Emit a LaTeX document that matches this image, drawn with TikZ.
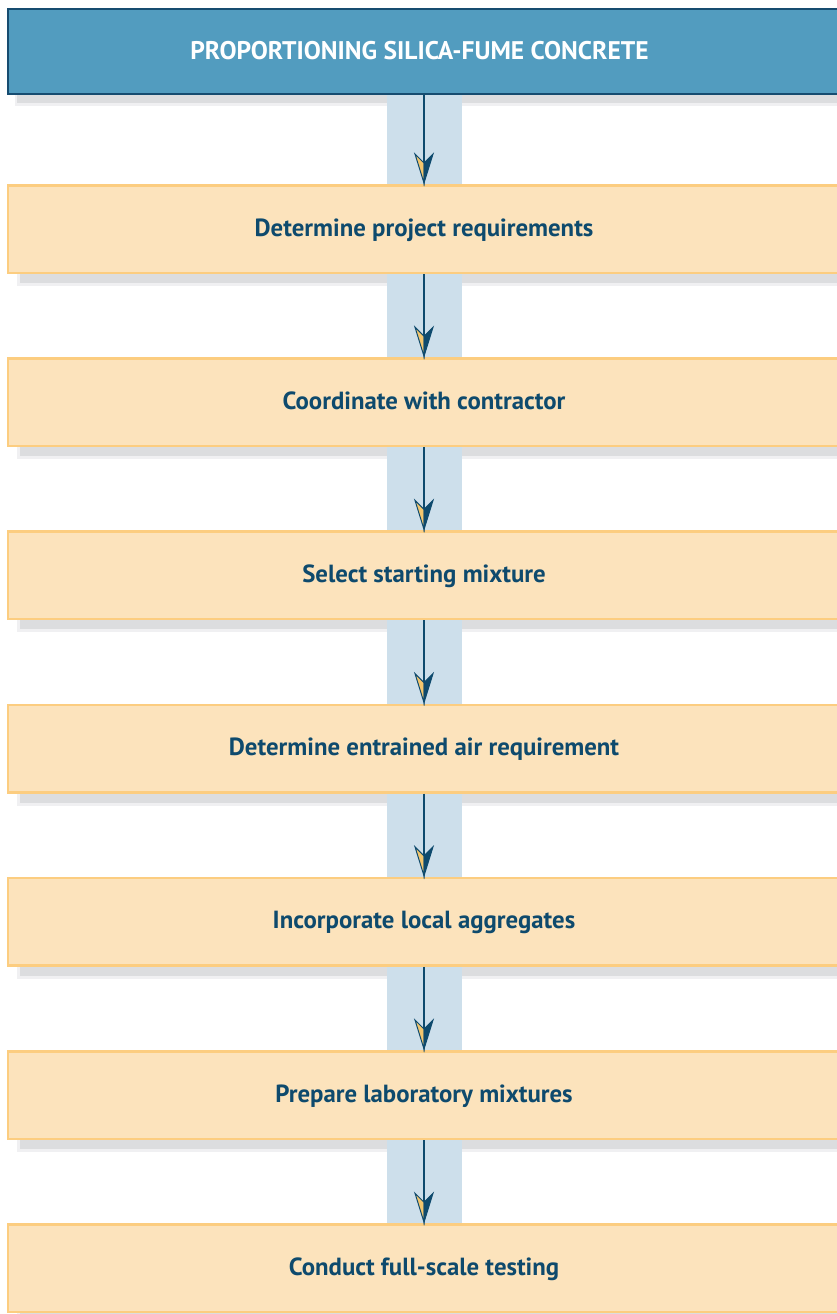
\documentclass[tikz,border=0pt]{standalone}
\usepackage{fontspec}
\newfontfamily\lblfont{PT Sans}
\usetikzlibrary{backgrounds}
\definecolor{topfill}{HTML}{529CBF}
\definecolor{topdraw}{HTML}{164C70}
\definecolor{yfill}{HTML}{FCE3BC}
\definecolor{ydraw}{HTML}{FCCD80}
\definecolor{dk}{HTML}{0E4A6D}
\definecolor{band}{HTML}{CDDFEB}
\definecolor{shd}{HTML}{DCDDDF}
\definecolor{shdl}{HTML}{F0F0F2}
\definecolor{headyel}{HTML}{F2C66E}
\tikzset{
  x=1pt, y=-1pt,
  topbox/.style={draw=topdraw, fill=topfill, line width=2pt, minimum width=832pt, minimum height=85pt, inner sep=0pt},
  ybox/.style={draw=ydraw, fill=yfill, line width=2.5pt, minimum width=832pt, minimum height=87.5pt, inner sep=0pt},
  lbl/.style={font=\lblfont\bfseries\fontsize{24.8}{28}\selectfont, text=dk, anchor=base, inner sep=0pt},
  toplbl/.style={lbl, font=\lblfont\bfseries\fontsize{25.5}{28}\selectfont, text=white},
  conn/.style={draw=dk, line width=2.6pt},
  ahead/.pic={
    \filldraw[fill=headyel, draw=dk, line width=1pt, line join=miter] (0,0) -- (-9,-29) -- (0,-20) -- cycle;
    \filldraw[fill=dk, draw=dk, line width=1pt, line join=miter] (0,0) -- (9,-29) -- (0,-20) -- cycle;
  }
}
\begin{document}
\begin{tikzpicture}
\useasboundingbox (0,0) rectangle (837,1314);
\clip (0,0) rectangle (837,1314);
% top box
\node[topbox] (b0) at (424,51.5) {};
\node[toplbl] (t0) at (419.5,59.5) {PROPORTIONING SILICA-FUME CONCRETE};
% step boxes
\node[ybox] (b1) at (424,229.0) {};
\node[ybox] (b2) at (424,402.2) {};
\node[ybox] (b3) at (424,575.4) {};
\node[ybox] (b4) at (424,748.6) {};
\node[ybox] (b5) at (424,921.8) {};
\node[ybox] (b6) at (424,1095.0) {};
\node[ybox] (b7) at (424,1268.2) {};
\node[lbl] (t1) at (424,236.0) {Determine project requirements};
\node[lbl] (t2) at (424,409.2) {Coordinate with contractor};
\node[lbl] (t3) at (424,582.4) {Select starting mixture};
\node[lbl] (t4) at (424,755.6) {Determine entrained air requirement};
\node[lbl] (t5) at (424,928.8) {Incorporate local aggregates};
\node[lbl] (t6) at (424,1102.0) {Prepare laboratory mixtures};
\node[lbl] (t7) at (424,1275.2) {Conduct full-scale testing};
% shadows and band
\begin{scope}[on background layer]
  \fill[shdl] ([xshift=8pt]b0.south west) rectangle ([yshift=-11pt]b0.south east);
  \fill[shd] ([xshift=10pt]b0.south west) rectangle ([yshift=-8pt]b0.south east);
  \foreach \b in {b1,b2,b3,b4,b5,b6,b7}{
    \fill[shdl] ([xshift=10pt]\b.south west) rectangle ([yshift=-12pt]\b.south east);
    \fill[shd] ([xshift=13pt]\b.south west) rectangle ([yshift=-9pt]\b.south east);
  }
  \fill[band] ([xshift=-37pt]b0.south) rectangle ([xshift=38pt]b7.north);
\end{scope}
% connectors
\foreach \a/\b in {b0/b1,b1/b2,b2/b3,b3/b4,b4/b5,b5/b6,b6/b7}{
  \draw[conn] (\a.south) -- ([yshift=20pt]\b.north);
  \pic at ([yshift=1pt]\b.north) {ahead};
}
\end{tikzpicture}
\end{document}
